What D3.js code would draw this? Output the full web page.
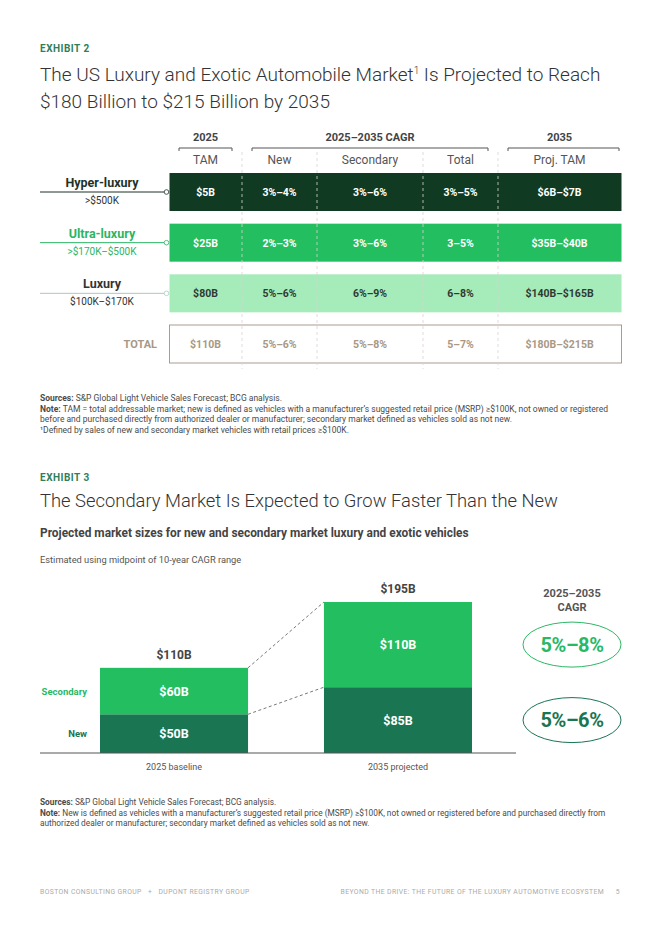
<!DOCTYPE html>
<html>
<head>
<meta charset="utf-8">
<script src="https://cdn.jsdelivr.net/npm/d3@7"></script>
<style>
body { margin: 0; background: #fff; }
svg text { font-family: Roboto, "Open Sans", sans-serif; }
</style>
</head>
<body>
<div id="page"></div>
<script>
// ---- Exhibit 2 data ----
var segments = ["Hyper-luxury", "Ultra-luxury", "Luxury", "TOTAL"];
var segmentRanges = [">$500K", ">$170K–$500K", "$100K–$170K", ""];
var tam2025 = ["$5B", "$25B", "$80B", "$110B"];
var cagrNew = ["3%–4%", "2%–3%", "5%–6%", "5%–6%"];
var cagrSecondary = ["3%–6%", "3%–6%", "6%–9%", "5%–8%"];
var cagrTotal = ["3%–5%", "3–5%", "6–8%", "5–7%"];
var projTam2035 = ["$6B–$7B", "$35B–$40B", "$140B–$165B", "$180B–$215B"];
var columnHeads = ["TAM", "New", "Secondary", "Total", "Proj. TAM"];
var groupHeads = ["2025", "2025–2035 CAGR", "2035"];

// ---- Exhibit 3 data ----
var periods = ["2025 baseline", "2035 projected"];
var newMarket = [50, 85];
var secondaryMarket = [60, 110];
var cagrBySeries = ["5%–8%", "5%–6%"]; // secondary, new

var W = 662, H = 936;
var svg = d3.select("#page").append("svg")
    .attr("width", W)
    .attr("height", H);

var green = "#2d7f5c";

// headings
function heading(y, label) {
    svg.append("text")
        .attr("x", 40).attr("y", y)
        .attr("font-size", 10).attr("font-weight", 700)
        .attr("letter-spacing", 0.5)
        .attr("fill", green)
        .text(label);
}

heading(52, "EXHIBIT 2");
var t1 = svg.append("text")
    .attr("x", 40).attr("y", 81)
    .attr("font-size", 19).attr("font-weight", 300).attr("fill", "#333");
t1.append("tspan").text("The US Luxury and Exotic Automobile Market");
t1.append("tspan").attr("font-size", 10).attr("dy", -7).text("1");
t1.append("tspan").attr("dy", 7).text(" Is Projected to Reach");
svg.append("text")
    .attr("x", 40).attr("y", 108)
    .attr("font-size", 19).attr("font-weight", 300).attr("fill", "#333")
    .text("$180 Billion to $215 Billion by 2035");

// ---- table ----
var colEdges = [169, 242, 317, 423, 498, 621];
var colMid = function(i) { return (colEdges[i] + colEdges[i + 1]) / 2; };
var columns = [tam2025, cagrNew, cagrSecondary, cagrTotal, projTam2035];

var rowY = d3.scaleBand()
    .domain(d3.range(segments.length))
    .range([173, 363])
    .paddingInner(0.25)
    .paddingOuter(0);

var rowFill = ["#103b22", "#22be60", "#a6ebba", "#fff"];
var rowText = ["#fff", "#fff", "#2f3a33", "#a89885"];
var labelColor = ["#1d3327", "#2bb565", "#333"];
var lineColor = ["#1d3327", "#2bb565", "#a9cbbf"];

var table = svg.append("g");

// group headers with brackets
var groupSpans = [[0, 0], [1, 3], [4, 4]];
groupSpans.forEach(function(s, i) {
    var x1 = colEdges[s[0]], x2 = colEdges[s[1] + 1];
    table.append("text")
        .attr("x", (x1 + x2) / 2).attr("y", 141)
        .attr("text-anchor", "middle")
        .attr("font-size", 11).attr("font-weight", 700).attr("fill", "#444")
        .text(groupHeads[i]);
    var a = x1 + 10, b = i == 2 ? x2 - 2 : x2 - 10;
    table.append("path")
        .attr("d", "M" + a + ",151V148H" + b + "V151")
        .attr("fill", "none").attr("stroke", "#555").attr("stroke-width", 1);
});

table.selectAll(".colhead")
    .data(columnHeads)
    .enter().append("text")
    .attr("x", function(d, i) { return colMid(i); })
    .attr("y", 164)
    .attr("text-anchor", "middle")
    .attr("font-size", 12).attr("fill", "#555")
    .text(function(d) { return d; });

// rows
var rows = table.selectAll(".row")
    .data(segments)
    .enter().append("g")
    .attr("transform", function(d, i) { return "translate(0," + rowY(i) + ")"; });

rows.append("rect")
    .attr("x", colEdges[0] + 0.5)
    .attr("width", colEdges[5] - colEdges[0])
    .attr("height", rowY.bandwidth())
    .attr("fill", function(d, i) { return rowFill[i]; })
    .attr("stroke", function(d, i) { return i == 3 ? "#a99d92" : "none"; });

// dashed column dividers
table.selectAll(".divider")
    .data(colEdges.slice(1, 5))
    .enter().append("line")
    .attr("x1", function(d) { return d; }).attr("x2", function(d) { return d; })
    .attr("y1", 152).attr("y2", 369)
    .attr("stroke", "#dcd2d2").attr("stroke-width", 0.8)
    .attr("stroke-dasharray", "3,3");

rows.each(function(d, r) {
    var g = d3.select(this);
    columns.forEach(function(col, c) {
        g.append("text")
            .attr("x", colMid(c))
            .attr("y", rowY.bandwidth() / 2 + 4)
            .attr("text-anchor", "middle")
            .attr("font-size", 10.5).attr("font-weight", 700)
            .attr("fill", rowText[r])
            .text(col[r]);
    });
});

// left row labels
rows.each(function(d, r) {
    var g = d3.select(this), cy = rowY.bandwidth() / 2;
    if (r == 3) {
        g.append("text")
            .attr("x", 157).attr("y", cy + 4)
            .attr("text-anchor", "end")
            .attr("font-size", 11).attr("font-weight", 700)
            .attr("fill", rowText[r])
            .text(d);
        return;
    }
    g.append("line")
        .attr("x1", 40).attr("x2", 164)
        .attr("y1", cy).attr("y2", cy)
        .attr("stroke", lineColor[r]).attr("stroke-width", 1);
    g.append("circle")
        .attr("cx", 166.5).attr("cy", cy).attr("r", 2.3)
        .attr("fill", "#fff").attr("stroke", lineColor[r]).attr("stroke-width", 0.8);
    g.append("text")
        .attr("x", 102).attr("y", cy - 5)
        .attr("text-anchor", "middle")
        .attr("font-size", 12.5).attr("font-weight", 700)
        .attr("fill", labelColor[r])
        .text(d);
    g.append("text")
        .attr("x", 102).attr("y", cy + 12)
        .attr("text-anchor", "middle")
        .attr("font-size", 10)
        .attr("fill", r == 1 ? labelColor[1] : "#333")
        .text(segmentRanges[r]);
});

// footnotes
function notes(y0, lines, size) {
    lines.forEach(function(l, i) {
        var t = svg.append("text")
            .attr("x", 40).attr("y", y0 + i * 10.5)
            .attr("font-size", size).attr("fill", "#4a4a4a");
        if (l[0]) t.append("tspan").attr("font-weight", 700).text(l[0] + " ");
        t.append("tspan").text(l[1]);
    });
}
notes(401, [
    ["Sources:", "S&P Global Light Vehicle Sales Forecast; BCG analysis."],
    ["Note:", "TAM = total addressable market; new is defined as vehicles with a manufacturer’s suggested retail price (MSRP) ≥$100K, not owned or registered"],
    ["", "before and purchased directly from authorized dealer or manufacturer; secondary market defined as vehicles sold as not new."],
    ["", "¹Defined by sales of new and secondary market vehicles with retail prices ≥$100K."]
], 8.5);

// ---- Exhibit 3 ----
heading(481, "EXHIBIT 3");
svg.append("text")
    .attr("x", 40).attr("y", 507)
    .attr("font-size", 18.4).attr("font-weight", 300).attr("fill", "#333")
    .text("The Secondary Market Is Expected to Grow Faster Than the New");
svg.append("text")
    .attr("x", 40).attr("y", 537)
    .attr("font-size", 11.9).attr("font-weight", 700).attr("fill", "#444")
    .text("Projected market sizes for new and secondary market luxury and exotic vehicles");
svg.append("text")
    .attr("x", 40).attr("y", 563)
    .attr("font-size", 9.3).attr("fill", "#555")
    .text("Estimated using midpoint of 10-year CAGR range");

var chartData = periods.map(function(p, i) {
    return { period: p, new: newMarket[i], secondary: secondaryMarket[i] };
});
var keys = ["new", "secondary"];
var keyLabel = { new: "New", secondary: "Secondary" };
var keyColor = { new: "#1a7552", secondary: "#22be60" };
var keyText = { new: "#1a7552", secondary: "#2bb865" };

var stack = d3.stack().keys(keys)(chartData);
var totalMax = d3.max(chartData, function(d) { return d.new + d.secondary; });

var x = d3.scaleBand().domain(periods).range([100, 472]).paddingInner(0.339);
var y = d3.scaleLinear().domain([0, totalMax]).range([753, 602]);

var chart = svg.append("g");

// dashed connectors between stacked tops
stack.forEach(function(layer) {
    chart.append("line")
        .attr("x1", x(periods[0]) + x.bandwidth()).attr("y1", y(layer[0][1]))
        .attr("x2", x(periods[1])).attr("y2", y(layer[1][1]))
        .attr("stroke", "#555").attr("stroke-width", 0.8)
        .attr("stroke-dasharray", "3,2.5");
});

var layers = chart.selectAll(".layer")
    .data(stack)
    .enter().append("g")
    .attr("fill", function(d) { return keyColor[d.key]; });

layers.selectAll("rect")
    .data(function(d) { return d; })
    .enter().append("rect")
    .attr("x", function(d) { return x(d.data.period); })
    .attr("y", function(d) { return y(d[1]); })
    .attr("width", x.bandwidth())
    .attr("height", function(d) { return y(d[0]) - y(d[1]); });

layers.selectAll("text")
    .data(function(d) { return d; })
    .enter().append("text")
    .attr("x", function(d) { return x(d.data.period) + x.bandwidth() / 2; })
    .attr("y", function(d) { return (y(d[0]) + y(d[1])) / 2 + 4.5; })
    .attr("text-anchor", "middle")
    .attr("font-size", 12.5).attr("font-weight", 700).attr("fill", "#fff")
    .text(function(d) { return "$" + (d[1] - d[0]) + "B"; });

// totals
chart.selectAll(".total")
    .data(chartData)
    .enter().append("text")
    .attr("x", function(d) { return x(d.period) + x.bandwidth() / 2; })
    .attr("y", function(d) { return y(d.new + d.secondary) - 9; })
    .attr("text-anchor", "middle")
    .attr("font-size", 12).attr("font-weight", 700).attr("fill", "#444")
    .text(function(d) { return "$" + (d.new + d.secondary) + "B"; });

// series labels on left
stack.forEach(function(layer) {
    chart.append("text")
        .attr("x", 87)
        .attr("y", (y(layer[0][0]) + y(layer[0][1])) / 2 + 3.5)
        .attr("text-anchor", "end")
        .attr("font-size", 9.5).attr("font-weight", 700)
        .attr("fill", keyText[layer.key])
        .text(keyLabel[layer.key]);
});

// axis
var axis = chart.append("g")
    .attr("transform", "translate(0," + y(0) + ")")
    .call(d3.axisBottom(x).tickSize(0).tickPadding(11));
axis.select(".domain").remove();
axis.selectAll("text")
    .attr("font-size", 9).attr("fill", "#555")
    .style("font-family", "Roboto, sans-serif");
chart.append("line")
    .attr("x1", 40).attr("x2", 516)
    .attr("y1", y(0)).attr("y2", y(0))
    .attr("stroke", "#555").attr("stroke-width", 1);

// CAGR column
var cx = 572;
chart.append("text")
    .attr("x", cx).attr("y", 597)
    .attr("text-anchor", "middle")
    .attr("font-size", 11).attr("font-weight", 700).attr("fill", "#555")
    .text("2025–2035");
chart.append("text")
    .attr("x", cx).attr("y", 611)
    .attr("text-anchor", "middle")
    .attr("font-size", 11).attr("font-weight", 700).attr("fill", "#555")
    .text("CAGR");

var lastLayers = stack.map(function(layer) {
    var d = layer[layer.length - 1];
    return { key: layer.key, cy: (y(d[0]) + y(d[1])) / 2 };
});
var cagrMap = { secondary: cagrBySeries[0], new: cagrBySeries[1] };

var bubbles = chart.selectAll(".cagr")
    .data(lastLayers)
    .enter().append("g")
    .attr("transform", function(d) { return "translate(" + cx + "," + d.cy + ")"; });
bubbles.append("ellipse")
    .attr("rx", 49).attr("ry", 22.5)
    .attr("fill", "none")
    .attr("stroke", function(d) { return keyText[d.key]; })
    .attr("stroke-width", 1);
bubbles.append("text")
    .attr("y", 7)
    .attr("text-anchor", "middle")
    .attr("font-size", 20).attr("font-weight", 700)
    .attr("letter-spacing", -0.4)
    .attr("fill", function(d) { return keyText[d.key]; })
    .text(function(d) { return cagrMap[d.key]; });

notes(805, [
    ["Sources:", "S&P Global Light Vehicle Sales Forecast; BCG analysis."],
    ["Note:", "New is defined as vehicles with a manufacturer’s suggested retail price (MSRP) ≥$100K, not owned or registered before and purchased directly from"],
    ["", "authorized dealer or manufacturer; secondary market defined as vehicles sold as not new."]
], 8.3);

// footer
var foot = svg.append("g").attr("font-size", 6.8).attr("fill", "#aaa").attr("letter-spacing", 0.4);
foot.append("text").attr("x", 40).attr("y", 894)
    .attr("xml:space", "preserve")
    .text("BOSTON CONSULTING GROUP   +   DUPONT REGISTRY GROUP");
foot.append("text").attr("x", 604).attr("y", 894).attr("text-anchor", "end")
    .text("BEYOND THE DRIVE: THE FUTURE OF THE LUXURY AUTOMOTIVE ECOSYSTEM");
foot.append("text").attr("x", 620).attr("y", 894).attr("text-anchor", "end")
    .text("5");
</script>
</body>
</html>
